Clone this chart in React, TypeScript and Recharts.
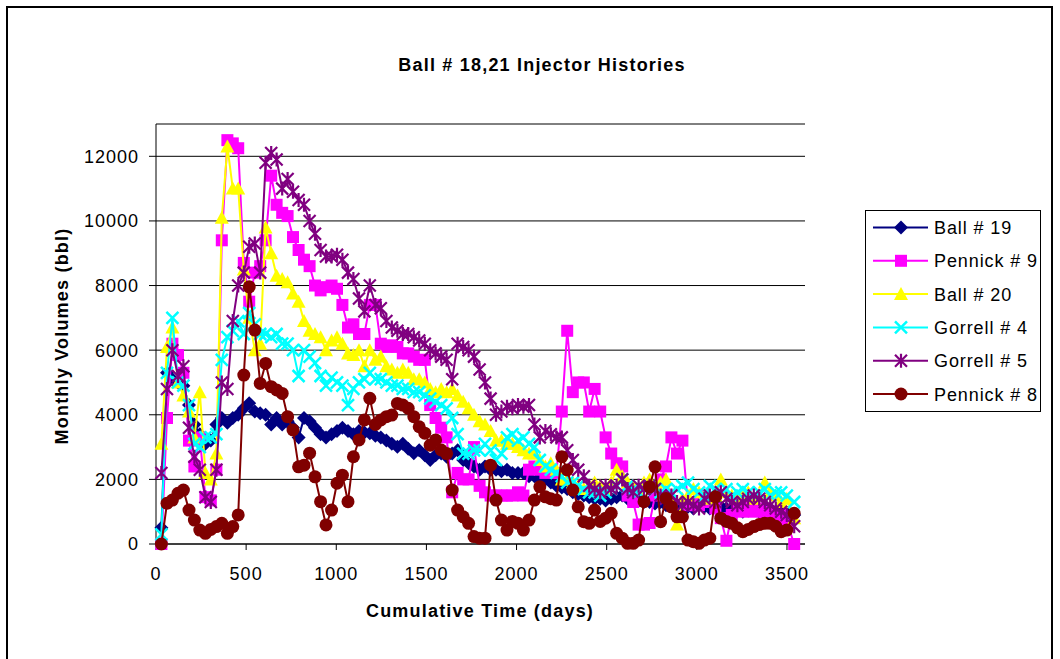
import { ScatterChart, Scatter, XAxis, YAxis, CartesianGrid } from 'recharts'

// cumulative time (days) for each monthly reading
const DAYS = [
  30, 61, 91, 122, 152, 183, 213, 243, 274, 304,
  335, 365, 396, 426, 456, 487, 517, 548, 578, 608,
  639, 669, 700, 730, 760, 791, 821, 852, 882, 913,
  943, 974, 1004, 1034, 1065, 1095, 1126, 1156, 1186, 1217,
  1247, 1278, 1308, 1339, 1369, 1399, 1430, 1460, 1491, 1521,
  1551, 1582, 1612, 1643, 1673, 1704, 1734, 1764, 1795, 1825,
  1856, 1886, 1916, 1947, 1977, 2008, 2038, 2069, 2099, 2129,
  2160, 2190, 2221, 2251, 2281, 2312, 2342, 2373, 2403, 2433,
  2464, 2494, 2525, 2555, 2586, 2616, 2647, 2677, 2707, 2738,
  2768, 2799, 2829, 2859, 2890, 2920, 2951, 2981, 3012, 3042,
  3072, 3103, 3133, 3164, 3194, 3225, 3255, 3285, 3316, 3346,
  3377, 3407, 3438, 3468, 3499, 3540,
]

const BALL_19 = [
  500, 5300, 5100, 5000, 4900, 4300, 3700, 3400, 3100, 3200,
  3700, 3900, 3750, 3900, 4000, 4200, 4360, 4100, 4050, 4000,
  3700, 3900, 3700, 3800, 3600, 3300, 3900, 3800, 3600, 3400,
  3300, 3400, 3500, 3600, 3500, 3400, 3500, 3450, 3430, 3350,
  3300, 3200, 3100, 3010, 3100, 2950, 2810, 2900, 2750, 2600,
  2750, 2800, 2700, 2800, 2900, 2600, 2500, 2400, 2300, 2400,
  2300, 2300, 2250, 2300, 2200, 2200, 2200, 2100, 2100, 2000,
  2000, 1900, 1800, 1750, 1700, 1600, 1550, 1500, 1450, 1400,
  1400, 1350, 1400, 1450, 1500, 1400, 1400, 1350, 1300, 1300,
  1250, 1300, 1200, 1250, 1200, 1100, 1150, 1100, 1200, 1150,
  1100, 1200, 1150, 1100, 1050, 1100, 1000, 1050, 1100, 1000,
  1050, 1000, 950, 1000, 950, 900,
]

const PENNICK_9 = [
  0, 3900, 6200, 5850, 5300, 3200, 2400, 3300, 1450, 1350,
  2300, 9400, 12500, 12400, 12250, 8700, 7500, 8400, 8600, 9400,
  11400, 10500, 10250, 10150, 9500, 9100, 8800, 8600, 8000, 7850,
  7950, 8000, 7900, 7400, 6700, 6800, 6500, 6500, 7400, 7400,
  6200, 6100, 6150, 6100, 5900, 5900, 5800, 5700, 5700, 4300,
  3900, 3600, 3300, 1600, 2200, 2000, 2000, 3000, 1800, 1600,
  1500, 1500, 1500, 1500, 1500, 1600, 1500, 2300, 2400, 2300,
  2200, 2300, 2200, 4100, 6600, 4700, 5000, 5000, 4100, 4800,
  4100, 3300, 2800, 2500, 2400, 1500, 1300, 600, 600, 650,
  1500, 2000, 2400, 3300, 2800, 3200, 1200, 1300, 1200, 1500,
  1300, 1100, 800, 100, 900, 1100, 1000, 1200, 1000, 1100,
  900, 1000, 800, 900, 700, 0,
]

const BALL_20 = [
  3100, 6100, 6700, 5000, 4600, 4100, 3300, 4700, 2200, 2000,
  2800, 10100, 12300, 11000, 11000, 8500, 7000, 6000, 6200, 9800,
  9000, 8300, 8200, 8100, 7750, 7500, 6900, 6600, 6500, 6400,
  6000, 6300, 6400, 6200, 5900, 5850, 6000, 5500, 6000, 5700,
  5800, 5500, 5400, 5300, 5400, 5300, 5100, 5100, 5000, 4800,
  4700, 4800, 4700, 4800, 4600, 4400, 4200, 4000, 3800, 3700,
  3500, 3200, 3200, 3100, 3100, 3000, 2900, 2800, 2800, 2600,
  2400, 2500, 2300, 2000, 2000, 1900, 1800, 1700, 1800, 1900,
  1800, 1700, 1900, 2300, 2100, 1900, 1800, 1700, 1900, 2000,
  1800, 1900, 2000, 1500, 600, 1400, 1500, 1700, 1600, 1500,
  1400, 1500, 2000, 1600, 1500, 1400, 1500, 1600, 1400, 1500,
  1900, 1600, 1500, 1300, 1400, 800,
]

const GORRELL_4 = [
  300, 5300, 7000, 5000, 4900, 4300, 3100, 3000, 3300, 3300,
  3400, 5700, 6400, 6600, 6900, 6500, 7150, 6800, 6500, 6500,
  6400, 6500, 6200, 6200, 6000, 5200, 6000, 5800, 5600, 5200,
  4900, 5150, 5000, 4900, 4300, 4800, 5000, 5100, 5300, 5100,
  5100, 5000, 4900, 4900, 4800, 4800, 4700, 4700, 4600, 4500,
  4400, 4300, 4200, 3900, 3400, 2800, 2800, 2900, 2900, 3100,
  2900, 2600, 2800, 3300, 3400, 3200, 3300, 3100, 3000, 2600,
  2400, 2300, 2200, 2100, 1900, 1900, 1800, 1700, 1600, 1600,
  1500, 1600, 1700, 1800, 2000, 1800, 1700, 1600, 1700, 1800,
  1700, 1600, 1700, 1600, 1700, 1800, 1900, 1700, 1600, 1500,
  1800, 1700, 1600, 1700, 1500, 1600, 1700, 1600, 1500, 1600,
  1700, 1500, 1600, 1600, 1500, 1300,
]

const GORRELL_5 = [
  2200, 4800, 6000, 5200, 5500, 3600, 2700, 2300, 1450, 1300,
  2300, 5000, 4800, 6900, 8000, 8400, 9200, 9300, 8400, 11800,
  12100, 11900, 11000, 11300, 10900, 10650, 10500, 10000, 9600, 9100,
  8900, 8900, 8950, 8800, 8400, 8200, 7600, 7200, 8000, 7400,
  7300, 6900, 6700, 6600, 6500, 6500, 6400, 6300, 6200, 6000,
  5900, 5800, 5700, 5100, 6200, 6100, 6000, 5800, 5400, 5000,
  4500, 4000, 4100, 4250, 4200, 4300, 4250, 4300, 3700, 3300,
  3500, 3400, 3300, 3300, 2900, 2600, 2300, 2100, 1800, 1700,
  1600, 1800, 1700, 1800, 2000, 1700, 1600, 1800, 1700, 1800,
  1700, 1500, 1400, 1500, 1300, 1200, 1300, 1200, 1100, 1400,
  1500, 1300, 1600, 1400, 1300, 1200, 1300, 1400, 1500, 1400,
  1300, 1200, 1100, 1000, 900, 550,
]

const PENNICK_8 = [
  0, 1260, 1360, 1570, 1670, 1050, 740, 430, 330, 450,
  540, 640, 330, 540, 900, 5230, 7960, 6620, 4970, 5590,
  4870, 4770, 4660, 3940, 3530, 2390, 2440, 2810, 2080, 1310,
  590, 1050, 1880, 2130, 1310, 2700, 3220, 3840, 4510, 3700,
  3840, 3940, 3990, 4350, 4300, 4200, 3940, 3630, 3430, 3060,
  3220, 2910, 2800, 1670, 1050, 840, 640, 230, 180, 180,
  2440, 1360, 740, 430, 700, 640, 430, 740, 1360, 1770,
  1460, 1400, 1360, 2700, 2290, 1670, 1150, 690, 640, 1050,
  700, 800, 950, 330, 180, 20, 20, 120, 1310, 1770,
  2390, 690, 1410, 1150, 840, 840, 120, 70, 20, 120,
  180, 1460, 800, 700, 640, 500, 380, 450, 540, 600,
  640, 640, 550, 380, 430, 950,
]

const X_TICKS = [0, 500, 1000, 1500, 2000, 2500, 3000, 3500]
const Y_TICKS = [0, 2000, 4000, 6000, 8000, 10000, 12000]

type Kind = 'diamond' | 'square' | 'triangle' | 'x' | 'star' | 'circle'

const SERIES: { name: string; values: number[]; color: string; kind: Kind }[] = [
  { name: 'Ball # 19', values: BALL_19, color: '#000080', kind: 'diamond' },
  { name: 'Pennick # 9', values: PENNICK_9, color: '#ff00ff', kind: 'square' },
  { name: 'Ball # 20', values: BALL_20, color: '#ffff00', kind: 'triangle' },
  { name: 'Gorrell # 4', values: GORRELL_4, color: '#00ffff', kind: 'x' },
  { name: 'Gorrell # 5', values: GORRELL_5, color: '#800080', kind: 'star' },
  { name: 'Pennick # 8', values: PENNICK_8, color: '#800000', kind: 'circle' },
]

const FONT = '"Liberation Sans", Arial, sans-serif'

function Marker({ kind, color, cx = 0, cy = 0 }: { kind: Kind; color: string; cx?: number; cy?: number }) {
  switch (kind) {
    case 'diamond':
      return <polygon points={`${cx},${cy - 7} ${cx + 7},${cy} ${cx},${cy + 7} ${cx - 7},${cy}`} fill={color} />
    case 'square':
      return <rect x={cx - 6} y={cy - 6} width={12} height={12} fill={color} />
    case 'triangle':
      return <polygon points={`${cx},${cy - 7} ${cx + 7},${cy + 6} ${cx - 7},${cy + 6}`} fill={color} />
    case 'x':
      return (
        <path
          d={`M${cx - 6},${cy - 6}L${cx + 6},${cy + 6}M${cx - 6},${cy + 6}L${cx + 6},${cy - 6}`}
          stroke={color}
          strokeWidth={2.5}
          fill="none"
        />
      )
    case 'star':
      return (
        <path
          d={`M${cx - 6},${cy - 6}L${cx + 6},${cy + 6}M${cx - 6},${cy + 6}L${cx + 6},${cy - 6}M${cx},${cy - 7}L${cx},${cy + 7}`}
          stroke={color}
          strokeWidth={2.2}
          fill="none"
        />
      )
    default:
      return <circle cx={cx} cy={cy} r={6.5} fill={color} />
  }
}

function ChartLegend() {
  return (
    <div
      style={{
        position: 'absolute',
        left: 865,
        top: 210,
        width: 174,
        height: 200,
        border: '1px solid #000',
        background: '#fff',
      }}
    >
      <svg width={174} height={200}>
        {SERIES.map((s, i) => {
          const y = 16.5 + i * 33.3
          return (
            <g key={s.name}>
              <line x1={7} x2={62} y1={y} y2={y} stroke={s.color} strokeWidth={2} />
              <Marker kind={s.kind} color={s.color} cx={35} cy={y} />
              <text x={68} y={y + 6.5} fontSize={18} letterSpacing={0.9} fontFamily={FONT} fill="#000">
                {s.name}
              </text>
            </g>
          )
        })}
      </svg>
    </div>
  )
}

const labelStyle = {
  position: 'absolute' as const,
  whiteSpace: 'nowrap' as const,
  fontFamily: FONT,
  fontWeight: 'bold' as const,
  fontSize: 18,
  letterSpacing: 1.2,
}

export default function App() {
  const tick = { fill: '#000', fontSize: 18, fontFamily: FONT, letterSpacing: 1 }
  return (
    <div style={{ position: 'absolute', left: 0, top: 0, width: 1060, height: 659, background: '#fff', overflow: 'hidden' }}>
      <div
        style={{
          position: 'absolute',
          left: 6,
          top: 6,
          width: 1043,
          height: 700,
          border: '2px solid #000',
        }}
      />
      <div style={{ ...labelStyle, left: 542, top: 65, transform: 'translate(-50%, -50%)' }}>
        Ball # 18,21 Injector Histories
      </div>
      <ScatterChart width={1060} height={659} margin={{ top: 124, right: 255, bottom: 85, left: 96 }}>
        <CartesianGrid horizontal vertical={false} stroke="#000" />
        <XAxis
          type="number"
          dataKey="x"
          domain={[0, 3600]}
          ticks={X_TICKS}
          tick={tick}
          tickSize={6}
          tickMargin={17}
          stroke="#000"
          height={30}
        />
        <YAxis
          type="number"
          dataKey="y"
          domain={[0, 13000]}
          ticks={Y_TICKS}
          tick={tick}
          tickSize={7}
          tickMargin={10}
          stroke="#000"
          width={60}
        />
        {SERIES.map((s) => (
          <Scatter
            key={s.name}
            name={s.name}
            data={DAYS.map((d, i) => ({ x: d, y: s.values[i] }))}
            fill={s.color}
            line={{ stroke: s.color, strokeWidth: 2 }}
            lineType="joint"
            isAnimationActive={false}
            shape={(p: any) => <Marker kind={s.kind} color={s.color} cx={p.cx} cy={p.cy} />}
          />
        ))}
      </ScatterChart>
      <div style={{ ...labelStyle, left: 62, top: 336, transform: 'translate(-50%, -50%) rotate(-90deg)' }}>
        Monthly Volumes (bbl)
      </div>
      <div style={{ ...labelStyle, left: 480, top: 611, transform: 'translate(-50%, -50%)' }}>
        Cumulative Time (days)
      </div>
      <ChartLegend />
    </div>
  )
}
